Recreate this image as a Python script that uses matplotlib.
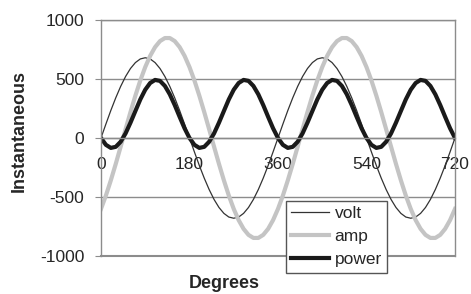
import matplotlib.pyplot as plt

plt.rcParams["font.family"] = ["Liberation Sans", "DejaVu Sans"]
plt.rcParams["axes.unicode_minus"] = False

degrees = list(range(0, 721, 10))

volt = [
    0, 118, 233, 340, 437, 521, 589, 639, 670, 680, 670, 639, 589, 521, 437, 340, 233, 118,
    0, -118, -233, -340, -437, -521, -589, -639, -670, -680, -670, -639, -589, -521, -437, -340, -233, -118,
    0, 118, 233, 340, 437, 521, 589, 639, 670, 680, 670, 639, 589, 521, 437, 340, 233, 118,
    0, -118, -233, -340, -437, -521, -589, -639, -670, -680, -670, -639, -589, -521, -437, -340, -233, -118,
    0,
]
amp = [
    -601, -488, -359, -220, -74, 74, 220, 359, 488, 601, 696, 770, 821, 847, 847, 821, 770, 696,
    601, 488, 359, 220, 74, -74, -220, -359, -488, -601, -696, -770, -821, -847, -847, -821, -770, -696,
    -601, -488, -359, -220, -74, 74, 220, 359, 488, 601, 696, 770, 821, 847, 847, 821, 770, 696,
    601, 488, 359, 220, 74, -74, -220, -359, -488, -601, -696, -770, -821, -847, -847, -821, -770, -696,
    -601,
]
power = [
    0, -58, -84, -75, -32, 39, 130, 229, 327, 409, 466, 492, 484, 441, 370, 279, 179, 82,
    0, -58, -84, -75, -32, 39, 130, 229, 327, 409, 466, 492, 484, 441, 370, 279, 179, 82,
    0, -58, -84, -75, -32, 39, 130, 229, 327, 409, 466, 492, 484, 441, 370, 279, 179, 82,
    0, -58, -84, -75, -32, 39, 130, 229, 327, 409, 466, 492, 484, 441, 370, 279, 179, 82,
    0,
]
x_ticks = [0, 180, 360, 540, 720]
y_ticks = [-1000, -500, 0, 500, 1000]

grid_color = "#8c8c8c"
text_color = "#262626"

fig = plt.figure(figsize=(4.71, 2.94), dpi=100)
ax = fig.add_axes([0.2144, 0.1293, 0.7516, 0.8027])

ax.plot(degrees, volt, color="#333333", lw=0.9, label="volt")
ax.plot(degrees, amp, color="#c4c4c4", lw=3, label="amp")
ax.plot(degrees, power, color="#1a1a1a", lw=3, label="power")

ax.set_xlim(0, 720)
ax.set_ylim(-1000, 1000)
ax.set_xticks(x_ticks)
ax.set_yticks(y_ticks)
ax.yaxis.grid(True, color=grid_color, lw=1)
ax.set_axisbelow(True)

for side in ["left", "right", "top", "bottom"]:
    ax.spines[side].set_color(grid_color)
    ax.spines[side].set_linewidth(1)
ax.spines["bottom"].set_position(("data", 0))
ax.axhline(-1000, color=grid_color, lw=1.5, clip_on=False, zorder=0)

ax.tick_params(axis="x", length=0, pad=14, labelsize=12.5, labelcolor=text_color)
ax.tick_params(axis="y", length=4, color=grid_color, pad=8, labelsize=12.5,
               labelcolor=text_color)

fig.text(0.040, 0.555, "Instantaneous", rotation=90, ha="center", va="center",
         fontsize=13, fontweight="bold", color=text_color)
fig.text(0.476, 0.035, "Degrees", ha="center", va="center",
         fontsize=13, fontweight="bold", color=text_color)

leg = ax.legend(loc="upper left", bbox_to_anchor=(286 / 471, 1 - 201 / 294),
                bbox_transform=fig.transFigure, fontsize=12.5, frameon=True,
                fancybox=False, framealpha=1, edgecolor="#555555",
                handlelength=2.2, handletextpad=0.3, labelspacing=0.45,
                borderpad=0.3, borderaxespad=0)
leg.get_frame().set_linewidth(1)
for t in leg.get_texts():
    t.set_color(text_color)

fig.savefig("out.png", dpi=100)
